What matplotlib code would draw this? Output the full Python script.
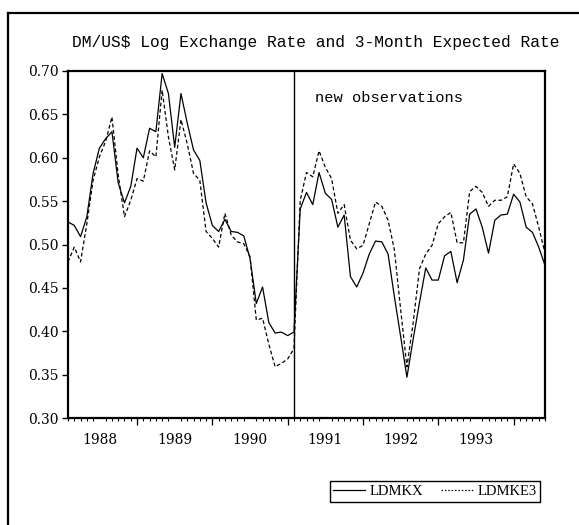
import numpy as np
import matplotlib
matplotlib.use("Agg")
import matplotlib.pyplot as plt
from matplotlib.lines import Line2D

# months counted from Jan 1988 (= 0); sample runs 1988M02 .. 1994M06
months = np.arange(1, 78)

ldmkx = [0.526, 0.522, 0.509, 0.532, 0.582, 0.611, 0.622, 0.630, 0.571, 0.548,
         0.567, 0.611, 0.600, 0.634, 0.630, 0.697, 0.674, 0.612, 0.674, 0.640,
         0.609, 0.597, 0.548, 0.522, 0.515, 0.529, 0.515, 0.514, 0.510, 0.484,
         0.432, 0.451, 0.410, 0.398, 0.399, 0.395, 0.399,
         0.541, 0.560, 0.546, 0.583, 0.559, 0.552, 0.520, 0.534, 0.463,
         0.451, 0.467, 0.489, 0.504, 0.503, 0.489, 0.440, 0.394, 0.347,
         0.391, 0.433, 0.473, 0.459, 0.459, 0.487, 0.492, 0.456, 0.482,
         0.535, 0.541, 0.520, 0.490, 0.528, 0.534, 0.535, 0.558, 0.549,
         0.520, 0.514, 0.497, 0.476]

ldmke3 = [0.480, 0.497, 0.480, 0.524, 0.574, 0.601, 0.619, 0.647, 0.580, 0.532,
          0.551, 0.576, 0.573, 0.608, 0.601, 0.678, 0.624, 0.586, 0.644, 0.616,
          0.582, 0.574, 0.515, 0.507, 0.497, 0.536, 0.511, 0.503, 0.501, 0.486,
          0.413, 0.415, 0.385, 0.359, 0.363, 0.368, 0.380,
          0.551, 0.583, 0.578, 0.608, 0.589, 0.576, 0.536, 0.546, 0.505,
          0.495, 0.499, 0.524, 0.549, 0.544, 0.528, 0.494, 0.425, 0.359,
          0.410, 0.472, 0.489, 0.499, 0.524, 0.532, 0.537, 0.502, 0.502,
          0.561, 0.567, 0.560, 0.544, 0.551, 0.551, 0.555, 0.593, 0.582,
          0.555, 0.547, 0.520, 0.490]

years = ["1988", "1989", "1990", "1991", "1992", "1993"]
year_starts = [12, 24, 36, 48, 60, 72]
year_mids = [6, 18, 30, 42, 54, 66]
split_month = 37   # start of the new observations
yticks = [0.30, 0.35, 0.40, 0.45, 0.50, 0.55, 0.60, 0.65, 0.70]

fig = plt.figure(figsize=(5.79, 5.25), dpi=100)
ax = fig.add_axes([68/579, 1-418/525, 477/579, 347/525])

ax.plot(months, ldmkx, color="black", lw=0.9, label="LDMKX")
ax.plot(months, ldmke3, color="black", lw=0.9, linestyle=(0, (3, 2)), label="LDMKE3")
ax.axvline(split_month, color="black", lw=1.0)

ax.set_xlim(months[0], months[-1])
ax.set_ylim(0.30, 0.70)
ax.set_yticks(yticks)
ax.set_yticklabels([f"{v:.2f}" for v in yticks], family="DejaVu Serif", fontsize=10)
ax.tick_params(axis="y", direction="out", length=4, width=1, pad=3)

ax.set_xticks(year_mids)
ax.set_xticklabels(years, family="DejaVu Serif", fontsize=10)
ax.set_xticks(months, minor=True)
ax.tick_params(axis="x", which="major", length=0, pad=11)
ax.tick_params(axis="x", which="minor", direction="out", length=2.5, width=0.8)

sec = ax.secondary_xaxis("bottom")
sec.set_xticks(year_starts)
sec.set_xticklabels([])
sec.tick_params(direction="out", length=5, width=0.9)
sec.spines["bottom"].set_visible(False)

for s in ax.spines.values():
    s.set_linewidth(1.6)

ax.text(0.518, 0.922, "new observations", transform=ax.transAxes,
        family="Liberation Mono", fontsize=11.1, va="center", ha="left")

fig.text(72/579, 1-42/525, "DM/US$ Log Exchange Rate and 3-Month Expected Rate",
         family="Liberation Mono", fontsize=11.7, va="center", ha="left")

# outer frame (only left and top edges are visible)
fig.add_artist(Line2D([8/579, 8/579], [0, 1-13/525], transform=fig.transFigure,
                      color="black", lw=1.6))
fig.add_artist(Line2D([8/579, 1], [1-13/525, 1-13/525], transform=fig.transFigure,
                      color="black", lw=1.6))

handles = [Line2D([], [], color="black", lw=0.9),
           Line2D([], [], color="black", lw=0.9, linestyle=(0, (1.2, 1.5)))]
leg = fig.legend(handles, ["LDMKX", "LDMKE3"], loc="center",
                 bbox_to_anchor=(435/579, 1-491.5/525), ncol=2, frameon=True,
                 fancybox=False, edgecolor="black", framealpha=1,
                 prop={"family": "Liberation Serif", "size": 10.5},
                 handlelength=2.2, handletextpad=0.3, columnspacing=1.2,
                 borderpad=0.25, borderaxespad=0)
leg.get_frame().set_linewidth(1.0)

fig.savefig("out.png", dpi=100)
